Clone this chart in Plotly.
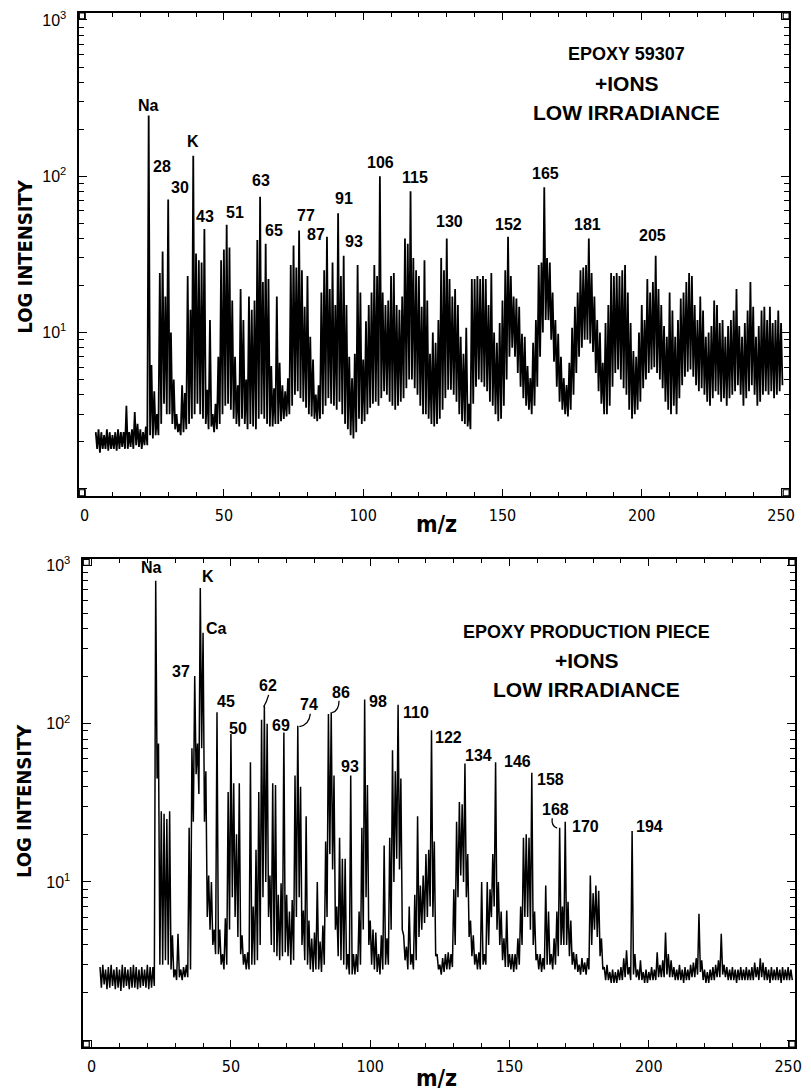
import plotly.graph_objects as go

# ---------------------------------------------------------------
# Spectrum data: intensity read per nominal m/z.
#   *_hi : peak-top intensity at the integer m/z
#   *_lo : trough intensity between m/z and m/z+1
# ---------------------------------------------------------------
top_start = 4
top_hi = [
    2.3, 2.4, 2.3, 2.2, 2.4, 2.3, 2.2, 2.3, 2.4, 2.3, 2.3, 3.4, 2.3, 2.4, 3.1, 2.6, 2.4, 2.3, 2.5,
    245, 6.2, 4.2, 3.0, 24, 33, 17, 71, 10, 5,
    3.0, 2.6, 4.6, 4.1, 23, 14, 135, 32, 29, 28,
    46, 4.3, 12, 3.0, 3.5, 7, 29, 34, 49, 35,
    16, 7, 4.6, 19, 12, 5, 17, 14, 16, 39,
    74, 21, 37, 22, 6.1, 4.4, 17, 6.4, 4.6, 4.2,
    5.1, 27, 36, 26, 45, 25, 14.6, 23, 9.4, 6.7,
    4.0, 4.6, 18, 25, 41, 19, 28, 15, 58, 23,
    31, 15, 7.0, 5.1, 7.3, 27, 18, 6.7, 11.8, 15,
    18, 27, 23, 100, 18, 15, 16, 23, 24, 15,
    14, 17, 40, 37, 80, 30, 25, 23, 14.6, 29,
    16, 7.3, 10, 8.6, 12, 30, 25, 40, 22, 17,
    19, 15, 9.4, 7.3, 10.7, 3.5, 22, 22, 23, 22,
    23, 22, 15, 24, 10, 8.6, 11.5, 16, 25, 41,
    23, 17, 16.5, 14.6, 9.8, 9.4, 6.1, 5.1, 8.6, 12,
    27, 28, 85, 30, 28, 18, 12, 9.8, 7.0, 5.1,
    4.6, 6.4, 10.7, 14.6, 18, 25, 26, 27, 40, 24,
    17, 12, 10, 6.4, 11.5, 15, 24, 23, 24, 23,
    25, 27, 18, 11.5, 7.6, 7.0, 10, 15, 12, 22,
    18, 21, 31, 19, 15, 11, 9.4, 18, 13.8, 9.4,
    12, 16.5, 18, 21, 24, 23, 15, 12, 17, 13.8,
    9.4, 10, 11, 16, 15, 11.5, 12, 9.4, 11, 12,
    13.8, 19, 11, 9.4, 11.5, 13.8, 21, 14.6, 9.4, 11,
    13.8, 14.6, 12, 14.6, 11.5, 12, 13.8, 11.5,
]
top_lo = [
    1.8, 1.7, 1.8, 1.8, 1.75, 1.8, 1.8, 1.75, 1.8, 1.85, 1.8, 1.8, 1.85, 1.8, 1.9, 1.85, 1.8, 1.9, 1.9,
    2.2, 2.1, 2.2, 2.2, 2.6, 3.5, 3.0, 3.0, 2.6, 2.4,
    2.3, 2.2, 2.3, 2.4, 2.6, 2.8, 3.0, 3.5, 3.0, 2.8,
    2.6, 2.4, 2.5, 2.3, 2.4, 2.6, 3.0, 3.4, 3.5, 3.2,
    2.8, 2.6, 2.5, 2.8, 2.6, 2.4, 2.6, 2.5, 2.4, 2.8,
    3.0, 2.8, 2.6, 2.5, 2.5, 2.6, 2.6, 2.7, 2.8, 2.9,
    3.0, 3.4, 4.0, 4.2, 3.8, 3.6, 3.3, 3.0, 2.9, 2.8,
    2.7, 2.8, 3.0, 3.4, 3.8, 3.5, 3.4, 3.2, 3.6, 3.0,
    2.6, 2.4, 2.2, 2.1, 2.3, 2.8, 2.6, 2.7, 3.0, 3.3,
    3.5, 3.6, 3.4, 3.8, 4.2, 4.0, 3.6, 3.4, 3.2, 3.4,
    3.6, 3.8, 4.4, 5.0, 5.0, 4.4, 4.0, 3.4, 3.0, 3.0,
    2.8, 2.6, 2.5, 2.6, 2.8, 3.2, 3.8, 4.3, 4.3, 4.0,
    3.6, 3.0, 2.7, 2.6, 2.5, 2.4, 3.5, 4.5, 5.0, 4.8,
    4.5, 4.2, 3.6, 3.4, 3.0, 2.7, 2.8, 3.4, 5.0, 7.0,
    8.0, 7.0, 5.5, 4.5, 3.8, 3.4, 3.2, 3.0, 3.4, 4.5,
    7.0, 10, 12, 12, 9.0, 6.5, 4.5, 3.6, 3.2, 3.0,
    2.9, 3.2, 4.0, 5.5, 7.0, 8.0, 9.0, 9.0, 8.5, 7.5,
    5.5, 4.2, 3.5, 3.0, 3.0, 3.4, 4.5, 5.5, 5.8, 5.0,
    4.4, 4.0, 3.2, 2.8, 3.0, 3.2, 3.6, 4.4, 5.0, 5.5,
    5.8, 6.0, 5.5, 5.0, 4.4, 3.6, 3.2, 3.0, 3.4, 3.0,
    3.8, 4.6, 5.2, 5.6, 5.8, 5.2, 4.6, 4.2, 4.4, 4.0,
    3.6, 3.4, 3.8, 4.2, 4.0, 3.6, 3.8, 3.4, 3.8, 4.0,
    4.2, 4.6, 4.0, 3.4, 3.8, 4.2, 4.6, 4.0, 3.4, 3.6,
    4.0, 4.2, 4.0, 4.2, 3.8, 4.0, 4.2, 4.6,
]

bot_start = 3
bot_hi = [
    2.9, 3.0, 2.8, 2.9, 3.0, 2.8, 2.9, 2.8, 3.0, 2.9, 2.8, 2.9, 3.0, 2.9, 2.8, 2.9, 2.8, 3.0, 2.9, 2.9,
    800, 75, 28, 27, 25, 28, 4.6, 2.8, 4.7, 2.8,
    2.9, 3.0, 22, 70, 200, 75, 720, 375, 50, 11,
    10, 5, 118, 5, 3.5, 5.9, 37, 86, 42, 20,
    42, 4.6, 3.5, 3.6, 57, 7, 16, 37, 106, 130,
    100, 11, 42, 41, 8.3, 9.8, 88, 8.3, 6.5, 7.7,
    47, 97, 40, 6.6, 26, 5.7, 4.4, 4.8, 10, 4.2,
    5.3, 18, 115, 118, 47, 7, 19, 14, 14, 3.5,
    47, 3.5, 3.5, 6.5, 22, 142, 41, 5.7, 5, 4.8,
    3.5, 4.6, 17, 4.4, 19, 68, 50, 132, 45, 4.6,
    3.9, 7, 3.5, 8.3, 26, 9.5, 11, 15, 16, 91,
    18, 3.5, 3.0, 3.3, 3.5, 3.6, 3.5, 9, 24, 32,
    31, 56, 15, 5.7, 4.6, 3.5, 3.6, 10, 3.5, 10,
    9, 15, 57, 10, 6.5, 4.4, 6.6, 3.5, 3.5, 3.5,
    4.4, 7, 19, 20, 19, 49, 6.5, 3.5, 3.5, 3.3,
    9.5, 6.5, 3.5, 4.4, 6.5, 22, 7, 24, 7.5, 5.7,
    3.6, 3.5, 3.0, 3.3, 3.1, 3.3, 11, 8.5, 9.5, 8.8,
    4.4, 2.9, 3.0, 2.7, 2.8, 2.7, 2.8, 2.9, 3.3, 3.7,
    2.9, 21, 3.5, 2.8, 3.2, 2.7, 2.8, 2.7, 2.9, 2.8,
    3.6, 3.0, 3.2, 4.8, 3.5, 3.2, 2.9, 2.8, 3.0, 2.8,
    2.9, 2.8, 3.0, 3.1, 3.3, 6.3, 3.2, 2.8, 2.7, 2.8,
    2.9, 3.0, 3.2, 4.7, 3.0, 2.9, 2.8, 2.9, 2.8, 2.8,
    2.9, 2.8, 2.9, 2.8, 2.9, 3.1, 2.9, 3.3, 3.1, 2.9,
    2.8, 2.9, 2.8, 2.9, 2.8, 2.9, 2.8, 2.9, 2.8,
]
bot_lo = [
    2.15, 2.25, 2.1, 2.15, 2.2, 2.1, 2.15, 2.05, 2.15, 2.2, 2.1, 2.15, 2.15, 2.1, 2.15, 2.2, 2.15, 2.1, 2.15, 2.2,
    45, 3.0, 3.0, 3.2, 3.0, 2.8, 2.5, 2.4, 2.5, 2.4,
    2.5, 2.5, 2.8, 24, 48, 36, 70, 24, 6, 5,
    4, 3.5, 3.5, 3.0, 2.8, 3.0, 5, 8, 6, 4.5,
    3.5, 3.0, 2.8, 2.8, 3.0, 3.0, 3.2, 4, 8, 10,
    6, 4, 3.6, 3.4, 3.2, 3.4, 3.6, 3.4, 3.0, 3.2,
    6, 8, 4, 3.2, 3.0, 2.8, 2.7, 2.8, 2.8, 2.7,
    3.0, 6, 15, 12, 5, 3.4, 3.2, 3.0, 2.8, 2.6,
    2.6, 2.6, 2.7, 3.0, 5, 8, 4, 3.0, 2.8, 2.7,
    2.6, 2.8, 3.0, 3.0, 5, 10, 14, 12, 5, 3.2,
    2.8, 3.0, 2.8, 3.2, 4.5, 5, 5.5, 6, 7, 6,
    3.4, 2.8, 2.6, 2.7, 2.8, 2.8, 2.9, 4, 8, 11,
    10, 8, 4.5, 3.4, 3.0, 2.8, 2.8, 3.0, 3.0, 4,
    6, 7, 5, 4, 3.2, 2.9, 2.9, 2.8, 2.7, 2.8,
    3.0, 4, 6, 6, 5, 4, 3.2, 2.8, 2.7, 2.8,
    3.0, 3.0, 2.8, 3.0, 3.4, 4, 4, 4, 3.4, 3.0,
    2.8, 2.7, 2.6, 2.7, 2.6, 2.8, 4, 5, 4.5, 3.4,
    2.8, 2.4, 2.4, 2.3, 2.3, 2.3, 2.4, 2.4, 2.5, 2.6,
    2.4, 2.6, 2.5, 2.4, 2.4, 2.3, 2.3, 2.4, 2.4, 2.4,
    2.5, 2.5, 2.5, 2.6, 2.5, 2.5, 2.4, 2.4, 2.4, 2.3,
    2.4, 2.4, 2.5, 2.5, 2.6, 2.7, 2.4, 2.3, 2.3, 2.4,
    2.4, 2.5, 2.5, 2.6, 2.5, 2.4, 2.4, 2.4, 2.3, 2.4,
    2.4, 2.4, 2.4, 2.4, 2.4, 2.5, 2.4, 2.5, 2.4, 2.4,
    2.3, 2.4, 2.4, 2.4, 2.3, 2.4, 2.4, 2.4, 2.4,
]

# Peak annotations: label text
top_peak_text = ["Na", "K", "28", "30", "43", "51", "63", "65", "77", "87", "91", "93",
                 "106", "115", "130", "152", "165", "181", "205"]
bot_peak_text = ["Na", "K", "Ca", "37", "45", "50", "62", "69", "74", "86", "93", "98",
                 "110", "122", "134", "146", "158", "168", "170", "194"]

top_title = ["EPOXY 59307", "+IONS", "LOW IRRADIANCE"]
bot_title = ["EPOXY PRODUCTION PIECE", "+IONS", "LOW IRRADIANCE"]

x_major = [0, 50, 100, 150, 200, 250]
x_minor = [v for v in range(10, 250, 10) if v % 50]
y_major = [1, 10, 100, 1000]
y_major_text = ["", "10<sup>1</sup>", "10<sup>2</sup>", "10<sup>3</sup>"]
y_minor = [k * d for d in (1, 10, 100) for k in range(2, 10)]


def trace_xy(start, hi, lo):
    xs, ys = [], []
    for i, (h, l) in enumerate(zip(hi, lo)):
        m = start + i
        xs += [m, m + 0.5]
        ys += [h, l]
    return xs, ys


# ---------------------------------------------------------------
# Page geometry (pixels)
# ---------------------------------------------------------------
W, H = 811, 1092
TOP_BOX = (80, 8, 796, 493)      # left, top, right, bottom
BOT_BOX = (84, 557, 802, 1047)


def px(x):
    return x / W


def py(y):
    return 1 - y / H


NARROW = "Liberation Sans Narrow, Arial Narrow, DejaVu Sans Condensed, Liberation Sans, sans-serif"
SANS = "Liberation Sans, Arial, Helvetica, sans-serif"

fig = go.Figure()
tx, ty = trace_xy(top_start, top_hi, top_lo)
bx, by = trace_xy(bot_start, bot_hi, bot_lo)
fig.add_trace(go.Scatter(x=tx, y=ty, mode="lines", line=dict(color="black", width=1.8),
                         xaxis="x", yaxis="y", hoverinfo="skip"))
fig.add_trace(go.Scatter(x=bx, y=by, mode="lines", line=dict(color="black", width=1.5),
                         xaxis="x2", yaxis="y2", hoverinfo="skip"))


def xaxis_cfg(box, rng, anchor):
    l, t, r, b = box
    return dict(
        domain=[px(l), px(r)], range=rng, anchor=anchor,
        showline=True, linecolor="black", linewidth=1.6, mirror="ticks",
        ticks="inside", ticklen=7, tickwidth=1.4, tickcolor="black",
        tickvals=x_major, ticktext=[str(v) for v in x_major],
        tickfont=dict(family=NARROW, size=16, color="black"),
        ticklabelstandoff=4,
        minor=dict(tickvals=x_minor, ticks="inside", ticklen=4, tickwidth=1.2, tickcolor="black"),
        showgrid=False, zeroline=False, fixedrange=True,
    )


def yaxis_cfg(box, rng, anchor):
    l, t, r, b = box
    return dict(
        type="log", domain=[py(b), py(t)], range=rng, anchor=anchor,
        showline=True, linecolor="black", linewidth=1.6, mirror="ticks",
        ticks="inside", ticklen=8, tickwidth=1.4, tickcolor="black",
        tickvals=y_major, ticktext=y_major_text,
        tickfont=dict(family=SANS, size=16, color="black"),
        ticklabelstandoff=8,
        minor=dict(tickvals=y_minor, ticks="inside", ticklen=5, tickwidth=1.2, tickcolor="black"),
        showgrid=False, zeroline=False, fixedrange=True,
    )


fig.update_layout(
    width=W, height=H, margin=dict(l=0, r=0, t=0, b=0),
    paper_bgcolor="white", plot_bgcolor="white", showlegend=False,
    xaxis=xaxis_cfg(TOP_BOX, [-1.9, 252.9], "y"),
    yaxis=yaxis_cfg(TOP_BOX, [-0.045, 3.045], "x"),
    xaxis2=xaxis_cfg(BOT_BOX, [-3.0, 252.5], "y2"),
    yaxis2=yaxis_cfg(BOT_BOX, [-0.044, 3.038], "x2"),
)

annotations = []

# peak label placement (m/z, log10 height) on each panel
top_label_pos = [(23.0, 2.45), (39.0, 2.22), (27.7, 2.06), (34.4, 1.93), (43.3, 1.74),
                 (54.0, 1.77), (63.2, 1.97), (67.9, 1.65), (79.6, 1.75), (83.2, 1.63),
                 (93.1, 1.86), (96.7, 1.58), (106.3, 2.09), (118.5, 1.99), (130.9, 1.71),
                 (152.2, 1.69), (165.4, 2.02), (180.7, 1.69), (203.8, 1.62)]
bot_label_pos = [(21.5, 2.985), (41.9, 2.93), (44.7, 2.60), (31.9, 2.33), (48.3, 2.14),
                 (52.5, 1.97), (63.2, 2.24), (67.8, 1.99), (78.1, 2.12), (89.5, 2.20),
                 (92.7, 1.73), (102.7, 2.14), (116.6, 2.07), (128.0, 1.91), (139.0, 1.80),
                 (152.9, 1.76), (164.6, 1.65), (166.4, 1.46), (177.1, 1.35), (200.2, 1.35)]

label_font = dict(family=SANS, size=16, color="black", weight=700)
for txt, (xm, yl) in zip(top_peak_text, top_label_pos):
    annotations.append(dict(x=xm, y=yl, xref="x", yref="y", text=txt, showarrow=False,
                            xanchor="center", yanchor="middle", font=label_font))
for txt, (xm, yl) in zip(bot_peak_text, bot_label_pos):
    annotations.append(dict(x=xm, y=yl, xref="x2", yref="y2", text=txt, showarrow=False,
                            xanchor="center", yanchor="middle", font=label_font))

# panel headings (first line set a little smaller)
for i, (txt, yy) in enumerate(zip(top_title, (49, 79, 108))):
    annotations.append(dict(x=px(632), y=py(yy), xref="paper", yref="paper", text=txt,
                            xanchor="center", yanchor="middle", showarrow=False,
                            font=dict(family=SANS, size=18 if i == 0 else 21,
                                      color="black", weight=700)))
for i, (txt, yy) in enumerate(zip(bot_title, (630, 659, 688))):
    annotations.append(dict(x=px(592), y=py(yy), xref="paper", yref="paper", text=txt,
                            xanchor="center", yanchor="middle", showarrow=False,
                            font=dict(family=SANS, size=18 if i == 0 else 21,
                                      color="black", weight=700)))

# axis titles
for yy in (253, 800):
    annotations.append(dict(x=px(25), y=py(yy), xref="paper", yref="paper",
                            text="LOG INTENSITY", textangle=-90, showarrow=False,
                            xanchor="center", yanchor="middle",
                            font=dict(family=NARROW, size=20, color="black", weight=900)))
for yy in (521, 1078):
    annotations.append(dict(x=px(440), y=py(yy), xref="paper", yref="paper",
                            text="m/z", showarrow=False, xanchor="center", yanchor="middle",
                            font=dict(family=NARROW, size=23, color="black", weight=900)))

fig.update_layout(annotations=annotations)

shapes = []
# small squares at the frame corners
for (l, t, r, b) in (TOP_BOX, BOT_BOX):
    s = 6
    for cx, cy in ((l, t), (r - s, t), (l, b - s), (r - s, b - s)):
        shapes.append(dict(type="rect", xref="paper", yref="paper",
                           x0=px(cx), x1=px(cx + s), y0=py(cy + s), y1=py(cy),
                           line=dict(color="black", width=1.2), fillcolor="rgba(0,0,0,0)"))


def hook(x0, y0, cx, cy, x1, y1):
    return dict(type="path", xref="paper", yref="paper",
                path=f"M {px(x0)},{py(y0)} Q {px(cx)},{py(cy)} {px(x1)},{py(y1)}",
                line=dict(color="black", width=1.3))


# leader marks from labels to their peaks
shapes.append(hook(271, 693, 269, 700, 266, 705))
shapes.append(hook(313, 712, 312, 723, 302, 725))
shapes.append(hook(342, 699, 342, 709, 335, 711))
shapes.append(hook(557, 817, 556, 825, 562, 827))

fig.update_layout(shapes=shapes)

fig.write_html("out.html")
